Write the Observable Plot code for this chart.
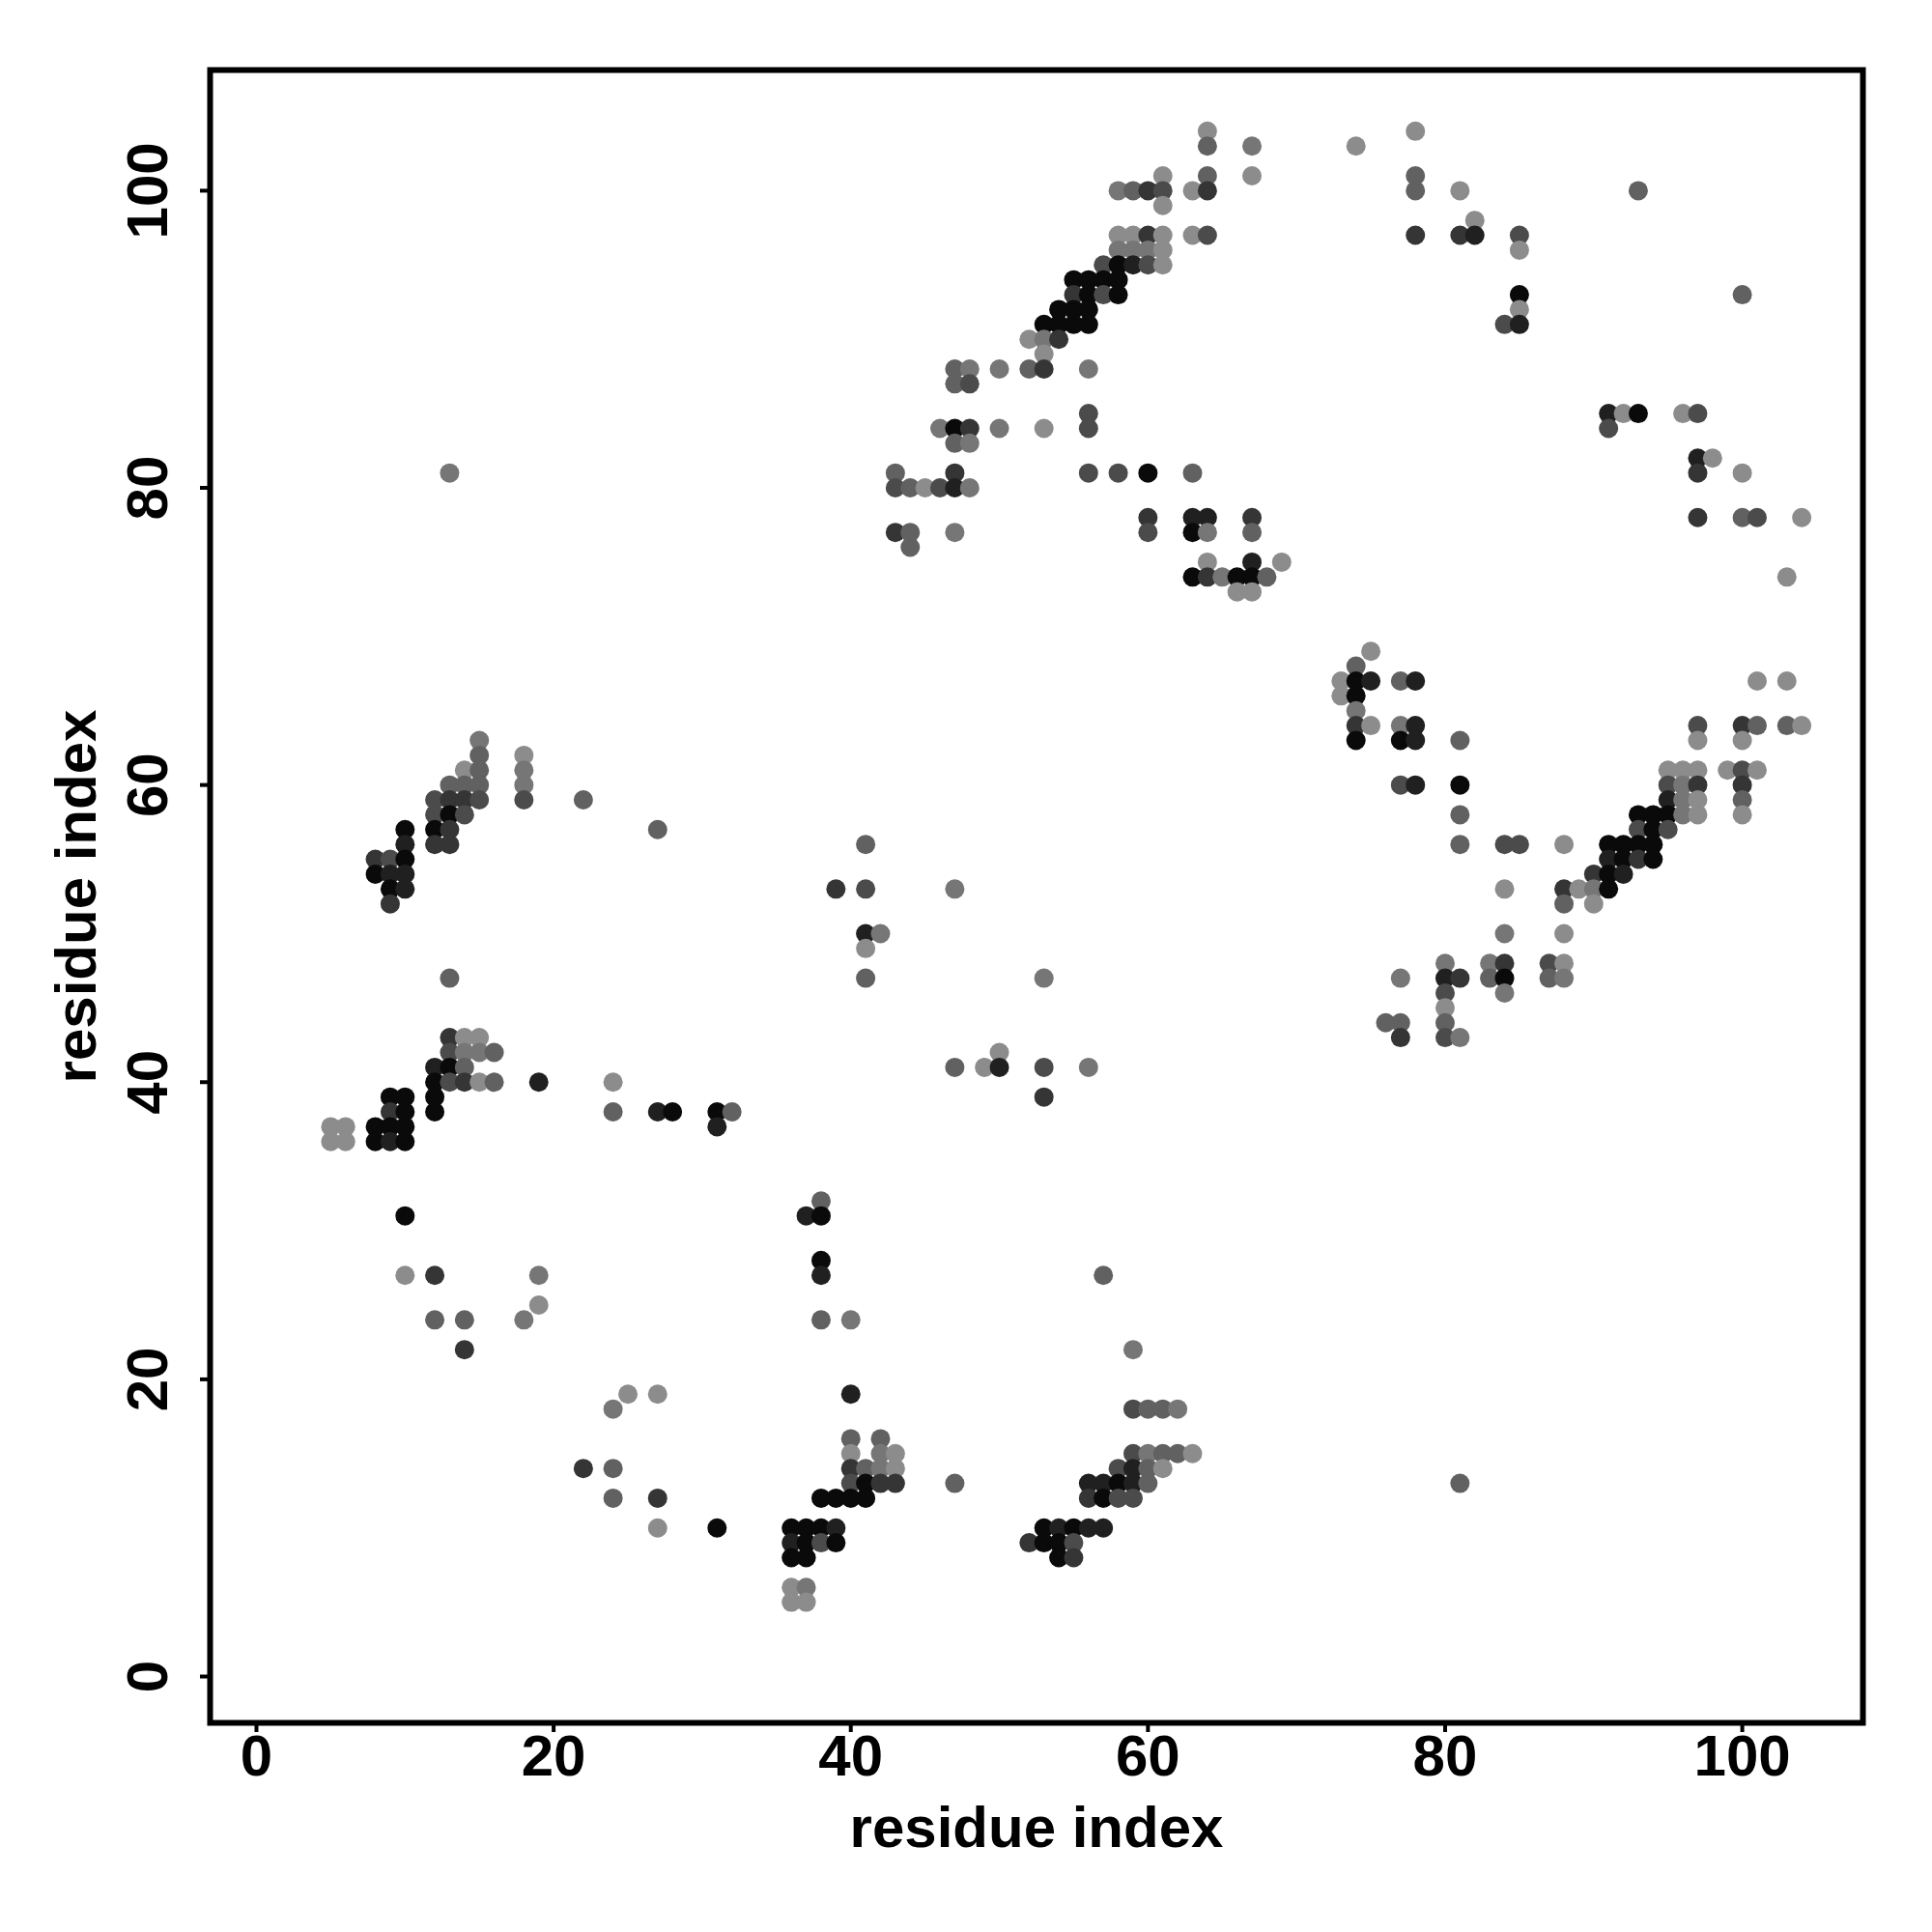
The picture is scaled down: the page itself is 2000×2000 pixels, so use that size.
<!DOCTYPE html>
<html><head><meta charset="utf-8">
<script src="https://cdn.jsdelivr.net/npm/d3@7"></script>
<script src="https://cdn.jsdelivr.net/npm/@observablehq/plot@0.6"></script>
<style>html,body{margin:0;padding:0;background:#fff} svg{display:block}</style>
</head><body><div id="chart"></div>
<script>
// Contact map: each row is one value of the y residue index
const rowY = [104,103,101,100,99,98,97,96,95,94,93,92,91,90,89,88,87,85,84,83,82,81,80,78,77,76,75,74,73,
  69,68,67,66,65,64,63,62,61,60,59,58,57,56,55,54,53,52,50,49,48,47,46,45,44,43,42,41,40,39,38,37,36,
  32,31,28,27,25,24,22,19,18,16,15,14,13,12,10,9,8,6,5];
const rowX = [
  [64,78],[64,67,74],[61,64,67,78],[58,59,60,61,63,64,78,81,93],[61],[82],
  [58,59,60,61,63,64,78,81,82,85],[58,59,60,61,85],[57,58,59,60,61],[55,56,57,58],
  [55,56,57,58,85,100],[54,55,56,85],[53,54,55,56,84,85],[52,53,54],[53],
  [47,48,50,52,53,56],[47,48],[56,91,92,93,96,97],[46,47,48,50,53,56,91],[47,48],[97,98],
  [13,43,47,56,58,60,63,97,100],[43,44,45,46,47,48],[60,63,64,67,97,100,101,104],
  [43,44,47,60,63,64,67],[44],[64,67,69],[63,64,65,66,67,68,103],[66,67],
  [75],[74],[73,74,75,77,78,101,103],[73,74],[74],[74,75,77,78,97,100,101,103,104],
  [15,74,77,78,81,97,100],[15,18],[14,15,18,95,96,97,99,100,101],
  [13,14,15,18,77,78,81,95,96,97,100],[12,13,14,15,18,22,95,96,97,100],
  [12,13,14,81,93,94,95,96,97,100],[10,12,13,27,93,94,95],
  [10,12,13,41,81,84,85,88,91,92,93,94],[8,9,10,91,92,93,94],[8,9,10,90,91,92],
  [9,10,39,41,47,84,88,89,90,91],[9,88,90],[41,42,84,88],[41],[80,83,84,87,88],
  [13,41,53,77,80,81,83,84,87,88],[80,84],[80],[76,77,80],[13,14,15,77,80,81],
  [13,14,15,16,50],[12,13,14,47,49,50,53,56],[12,13,14,15,16,19,24],[9,10,12,53],
  [9,10,12,24,27,28,31,32],[5,6,8,9,10,31],[5,6,8,9,10],
  [38],[10,37,38],[38],[10,12,19,38,57],[19],[12,14,18,38,40],[14,59],[25,27,40],
  [24,59,60,61,62],[40,42],[40,42,43,59,60,61,62,63],[22,24,40,41,42,43,58,59,60,61],
  [40,41,42,43,47,56,57,58,59,60,81],[24,27,38,39,40,41,56,57,58,59],
  [27,31,36,37,38,39,53,54,55,56,57],[36,37,38,39,52,53,54,55],[36,37,54,55],[36,37],[36,37]
];
// darkness level of each point, 1 = lightest grey, 7 = black
const rowShade = [
  [1,1],[3,2,1],[1,3,1,3],[2,3,5,4,1,5,3,1,3],[1],[1],
  [1,1,5,1,1,4,5,5,6,4],[2,2,2,1,1],[4,7,6,4,1],[7,7,7,7],
  [5,7,4,7,7,3],[7,7,7,1],[7,7,7,7,4,6],[1,2,5],[1],
  [3,2,2,3,5,2],[3,4],[4,6,1,7,1,4],[2,7,5,2,1,4,4],[3,2],[6,1],
  [2,3,5,4,4,7,3,5,1],[4,3,1,4,6,2],[5,6,6,5,5,3,4,1],
  [5,3,2,4,7,2,3],[3],[1,6,1],[7,5,2,7,7,3,1],[1,1],
  [1],[3],[1,7,6,3,6,1,1],[1,7],[2],[5,1,2,6,4,5,3,3,1],
  [2,7,7,6,3,1,1],[3,1],[1,3,2,1,1,1,1,4,1],
  [3,3,3,2,4,6,7,4,2,5,5],[4,5,5,4,4,3,6,2,1,3],
  [4,7,4,3,7,7,7,2,1,1],[7,7,5,3,4,7,4],
  [6,5,5,3,3,4,4,1,7,7,7,7],[5,4,7,6,7,5,7],[7,6,6,5,7,6],
  [7,6,5,4,2,1,5,1,2,7],[5,3,1],[6,2,2,1],[1],[2,2,5,4,1],
  [3,3,2,2,6,5,3,7,3,2],[4,2],[1],[3,3,3],[5,1,1,5,4,2],
  [4,2,2,3,1],[6,7,3,3,1,6,4,2],[7,4,5,1,3,6,1],[7,7,7,5],
  [5,7,7,3,6,7,7,3],[1,1,7,7,7,6],[1,1,7,6,7],
  [3],[7,6,7],[7],[1,5,2,6,3],[1],[3,3,2,3,2],[5,2],[1,1,6],
  [2,4,3,3,2],[3,3],[1,2,1,4,2,3,3,1],[5,3,5,3,2,1,4,6,3,1],
  [4,7,5,5,3,6,6,7,6,3,3],[3,5,7,7,7,7,5,7,4,4],
  [1,7,7,7,7,6,7,6,7,6,6],[6,7,4,7,5,7,7,4],[7,7,7,5],[1,2],[1,1]
];
const xTicks = [0, 20, 40, 60, 80, 100];
const yTicks = [0, 20, 40, 60, 80, 100];
const xTitle = "residue index";
const yTitle = "residue index";

const contacts = rowY.flatMap((y, r) => rowX[r].map((x, k) => ({x, y, s: rowShade[r][k]})));

const font = "'Liberation Sans', Arial, Helvetica, sans-serif";
const chart = Plot.plot({
  width: 2000,
  height: 2000,
  marginLeft: 217,
  marginRight: 72,
  marginTop: 72,
  marginBottom: 217,
  style: {fontFamily: font, background: "#fff", color: "#000"},
  x: {domain: [-3.12, 108.12]},
  y: {domain: [-3.12, 108.12]},
  color: {type: "linear", domain: [1, 7], range: ["#8c8c8c", "#0a0a0a"]},
  marks: [
    Plot.dot(contacts, {x: "x", y: "y", r: 10, fill: "s", stroke: null}),
    Plot.frame({stroke: "#000", strokeWidth: 6}),
    Plot.axisX({ticks: xTicks, tickSize: 10, tickPadding: 2, fontSize: 60, fontWeight: "bold", strokeWidth: 4, label: null}),
    Plot.axisY({ticks: yTicks, tickSize: 10, tickPadding: 35, tickRotate: -90, fontSize: 60, fontWeight: "bold", strokeWidth: 4, label: null}),
    Plot.text([xTitle], {frameAnchor: "bottom", dy: 128, lineAnchor: "bottom", textAnchor: "middle", fontSize: 60, fontWeight: "bold", fill: "#000"}),
    Plot.text([yTitle], {frameAnchor: "left", dx: -119, rotate: -90, lineAnchor: "bottom", textAnchor: "middle", fontSize: 60, fontWeight: "bold", fill: "#000"})
  ]
});
document.getElementById("chart").appendChild(chart);
</script>
</body></html>
